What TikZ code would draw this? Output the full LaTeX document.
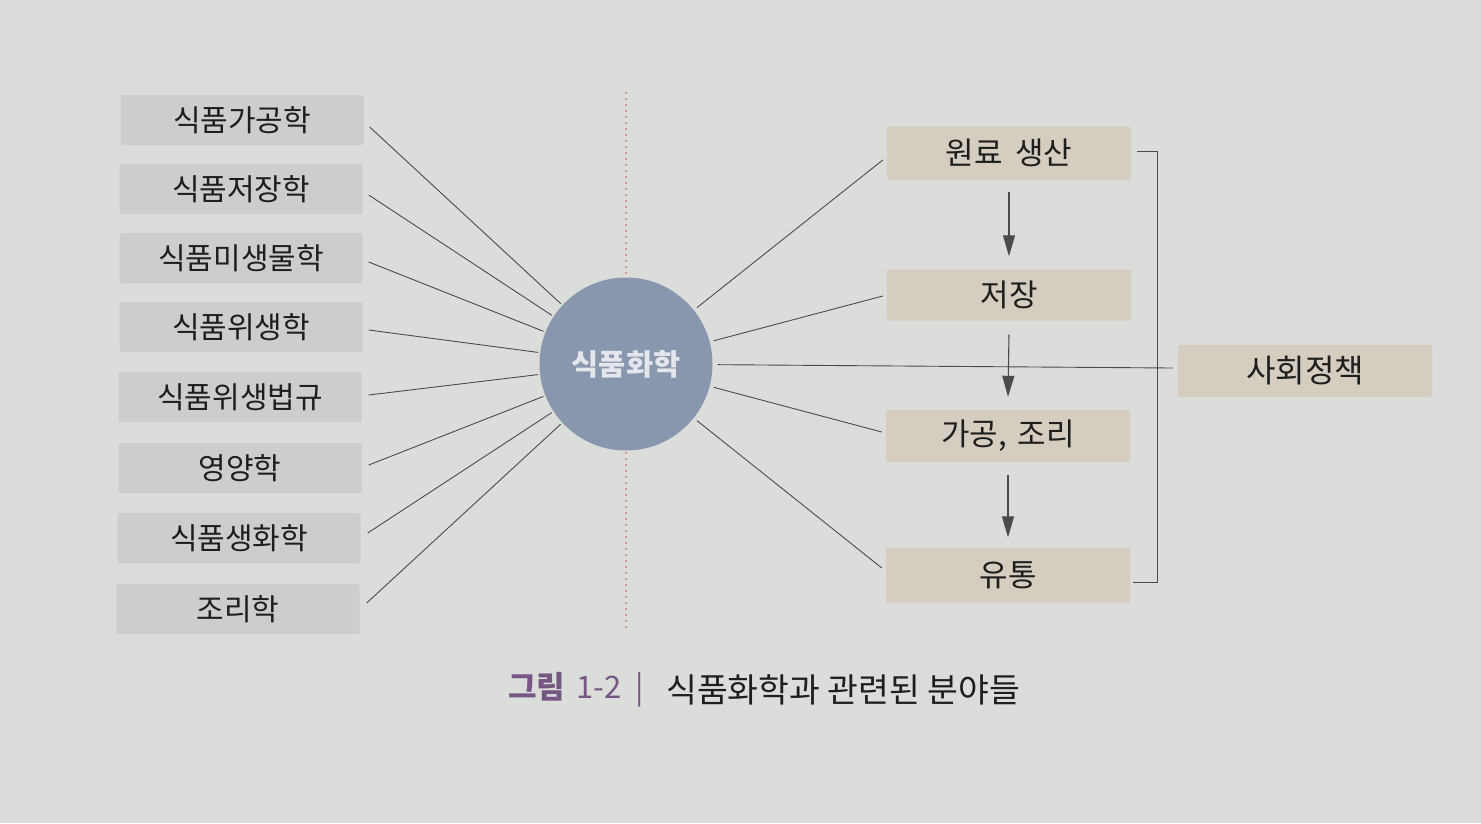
\documentclass[tikz,border=0pt]{standalone}
\usepackage{fontspec}
\setmainfont{Noto Sans CJK KR}
\usetikzlibrary{arrows.meta}
\definecolor{bgc}{RGB}{219,221,219}
\definecolor{lboxc}{RGB}{205,205,203}
\definecolor{rboxc}{RGB}{212,205,192}
\definecolor{circc}{RGB}{137,151,174}
\definecolor{linec}{RGB}{75,75,75}
\definecolor{txt}{RGB}{30,30,30}
\definecolor{dotc}{RGB}{212,150,150}
\definecolor{capp}{RGB}{118,86,130}
\definecolor{ctxt}{RGB}{228,230,236}
\begin{document}
\begin{tikzpicture}[x=1pt,y=-1pt,
  lbox/.style={fill=lboxc, minimum width=243pt, minimum height=50pt, inner sep=0pt,
    rounded corners=1.5pt, text=txt, font=\fontsize{30}{32}\selectfont},
  rbox/.style={lbox, fill=rboxc, minimum width=244pt, minimum height=52pt,
    font=\fontsize{31}{33}\selectfont},
  conn/.style={draw=linec, line width=0.9pt},
  arr/.style={draw=linec, line width=1.1pt, -{Triangle[length=21pt,width=12pt]}, fill=linec},
  dotline/.style={draw=dotc, line width=1.8pt, dash pattern=on 2pt off 4pt}]
\fill[bgc] (0,0) rectangle (1481,823);
\useasboundingbox (0,0) rectangle (1481,823);

% dotted axis
\coordinate (dt) at (626,92);
\coordinate (db) at (626,632);
\draw[dotline] (dt) -- (db);

% left boxes
\node[lbox] (l1) at (242,120) {식품가공학};
\node[lbox] (l2) at (241,189) {식품저장학};
\node[lbox] (l3) at (241,258) {식품미생물학};
\node[lbox] (l4) at (241,327) {식품위생학};
\node[lbox] (l5) at (240,397) {식품위생법규};
\node[lbox] (l6) at (240,468) {영양학};
\node[lbox] (l7) at (239,538) {식품생화학};
\node[lbox] (l8) at (238,609) {조리학};

% centre circle
\node[circle, fill=circc, minimum size=173pt, inner sep=0pt, text=ctxt,
  font=\fontsize{29.5}{31}\selectfont\bfseries] (c) at (626,364) {식품화학};

% right boxes
\node[rbox, minimum height=53pt] (r1) at (1009,153) {원료\hspace{0.4em}생산};
\node[rbox, minimum height=51pt] (r2) at (1009,295) {저장};
\node[rbox] (r3) at (1008,436) {가공,\hspace{0.35em}조리};
\node[rbox, minimum height=55pt] (r4) at (1008,575) {유통};
\node[rbox, minimum width=254pt, font=\fontsize{32}{34}\selectfont] (s) at (1305,371) {사회정책};

% left connectors
\draw[conn, shorten >=2pt] ([xshift=6pt,yshift=-7pt]l1.east) -- (c);
\draw[conn, shorten >=2pt] ([xshift=6pt,yshift=-6pt]l2.east) -- (c);
\draw[conn, shorten >=2pt] ([xshift=6pt,yshift=-4pt]l3.east) -- (c);
\draw[conn, shorten >=2pt] ([xshift=6pt,yshift=-3pt]l4.east) -- (c);
\draw[conn, shorten >=2pt] ([xshift=7pt,yshift=2pt]l5.east) -- (c);
\draw[conn, shorten >=2pt] ([xshift=7pt,yshift=3pt]l6.east) -- (c);
\draw[conn, shorten >=2pt] ([xshift=7pt,yshift=5pt]l7.east) -- (c);
\draw[conn, shorten >=2pt] ([xshift=7pt,yshift=6pt]l8.east) -- (c);

% right connectors
\draw[conn, shorten <=4pt] (c) -- ([xshift=-4pt,yshift=-7pt]r1.west);
\draw[conn, shorten <=4pt] (c) -- ([xshift=-4pt,yshift=-1pt]r2.west);
\draw[conn, shorten <=4pt] (c) -- ([xshift=-4pt,yshift=4pt]r3.west);
\draw[conn, shorten <=4pt] (c) -- ([xshift=-4pt,yshift=7pt]r4.west);
\draw[conn, shorten <=5pt] (c) -- ([xshift=-5pt,yshift=3pt]s.west);

% flow arrows
\draw[arr] ([yshift=-12pt]r1.south) -- ([yshift=13pt]r2.north);
\draw[arr] ([yshift=-14pt]r2.south) -- ([yshift=13pt]r3.north);
\draw[arr] ([yshift=-13pt]r3.south) -- ([yshift=10pt]r4.north);

% bracket
\coordinate (bt) at (1157,151);
\coordinate (bb) at (1157,582);
\draw[conn] ([xshift=6pt,yshift=2pt]r1.east) -- (bt) -- (bb) -- ([xshift=3pt,yshift=-7pt]r4.east);

% caption
\node[anchor=west, inner sep=0pt, text=capp, font=\fontsize{31}{33}\selectfont] (cap1) at (508,690)
  {{\bfseries 그림}\hspace{0.35em}1-2\hspace{0.45em}|};
\node[anchor=west, inner sep=0pt, text=txt, font=\fontsize{33.5}{36}\selectfont] (cap2) at (666,690)
  {식품화학과 관련된 분야들};
\end{tikzpicture}
\end{document}
